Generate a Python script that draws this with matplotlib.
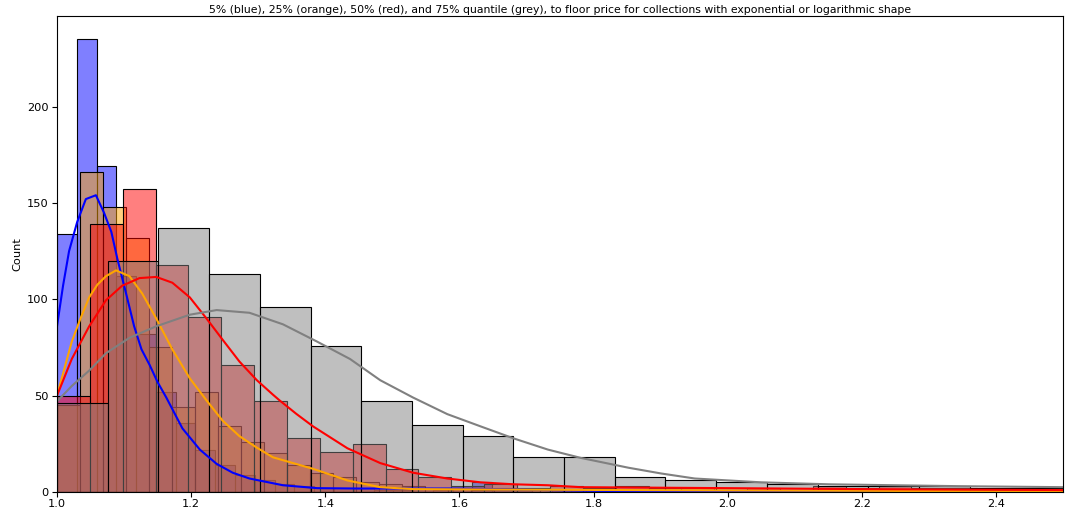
import numpy as np
import matplotlib
matplotlib.use('Agg')
import matplotlib.pyplot as plt
from matplotlib.colors import to_rgba

# histogram counts, one list per quantile (each series has its own bin width)
blue_counts = [134, 235, 169, 112, 82, 52, 36, 22, 14, 9, 6, 4, 3, 2, 2, 2, 1, 1, 2, 1,
               2, 5, 1, 1, 0, 1, 1, 0, 1, 0, 1, 0, 0, 1]
orange_counts = [45, 166, 148, 132, 75, 44, 52, 34, 26, 20, 14, 10, 8, 5, 4, 3, 2, 2, 1, 2,
                 1, 1, 1, 2, 1, 1, 1, 0, 1, 1, 1, 1, 0, 1, 1, 0, 1, 1, 0, 1, 0, 1, 1, 0]
red_counts = [50, 139, 157, 118, 91, 66, 47, 28, 21, 25, 12, 8, 3, 4, 2, 3, 2, 3, 2, 2,
              1, 2, 1, 3, 2, 3, 2, 2, 1, 2, 1]
grey_counts = [46, 120, 137, 113, 96, 76, 47, 35, 29, 18, 18, 8, 6, 5, 4, 3, 3, 3, 2, 2]

bin_start = 1.0
blue_width = 0.0295
orange_width = 0.0343
red_width = 0.0490
grey_width = 0.0756

# kde curves (already scaled to counts)
blue_kde_x = [1.0, 1.009, 1.018, 1.030, 1.043, 1.058, 1.070, 1.081, 1.090, 1.103, 1.115,
              1.126, 1.138, 1.150, 1.163, 1.175, 1.187, 1.213, 1.238, 1.262, 1.287, 1.337,
              1.388, 1.45, 1.5, 1.6, 1.7, 1.8, 1.9, 2.0, 2.2, 2.5]
blue_kde_y = [86, 107, 125, 140, 152, 154, 145, 135, 121, 103, 86, 74, 66, 57, 49, 41,
              33, 22, 14.6, 10, 7, 3.5, 2, 1.8, 1.8, 1.8, 1.2, 0.6, 0.3, 0.2, 0.1, 0]

orange_kde_x = [1.0, 1.011, 1.022, 1.035, 1.048, 1.060, 1.073, 1.088, 1.108, 1.127, 1.148,
                1.172, 1.198, 1.223, 1.247, 1.272, 1.298, 1.322, 1.352, 1.382, 1.433,
                1.482, 1.531, 1.7, 2.0, 2.3, 2.5]
orange_kde_y = [50, 64, 78, 90, 101, 107.5, 112, 115, 112, 103, 90, 74, 59, 47.5, 37, 29,
                23, 18, 15, 12, 6, 2.5, 1.5, 1.2, 0.8, 0.5, 0.3]

red_kde_x = [1.0, 1.022, 1.048, 1.073, 1.097, 1.123, 1.148, 1.172, 1.198, 1.223, 1.247,
             1.272, 1.298, 1.322, 1.332, 1.357, 1.382, 1.433, 1.482, 1.531, 1.582, 1.632,
             1.681, 1.732, 1.781, 2.0, 2.2, 2.5]
red_kde_y = [50, 69, 86, 99.5, 107, 111, 111.6, 108.6, 101, 90, 79, 67.7, 58, 50.5, 47.5,
             40.5, 34, 22.7, 15, 10, 7, 5, 4, 3.5, 2.5, 2, 1.5, 1]

grey_kde_x = [1.0, 1.022, 1.048, 1.073, 1.108, 1.148, 1.198, 1.238, 1.287, 1.337, 1.388,
              1.437, 1.482, 1.531, 1.582, 1.632, 1.681, 1.732, 1.781, 1.852, 1.901, 1.951,
              2.001, 2.051, 2.151, 2.25, 2.35, 2.5]
grey_kde_y = [47, 55, 63, 72, 80, 86, 92, 94.4, 93, 87, 78, 69, 58, 49, 40.4, 34, 27.8,
              22, 17.7, 12.6, 9.6, 7, 6, 5, 4, 3.5, 3, 2.5]

series = [
    (blue_counts, blue_width, blue_kde_x, blue_kde_y, 'blue'),
    (orange_counts, orange_width, orange_kde_x, orange_kde_y, 'orange'),
    (red_counts, red_width, red_kde_x, red_kde_y, 'red'),
    (grey_counts, grey_width, grey_kde_x, grey_kde_y, 'grey'),
]

plt.rcParams['font.size'] = 8.2
fig = plt.figure(figsize=(10.8, 5.12), dpi=100)
ax = fig.add_axes([57 / 1080, 20 / 512, 1006 / 1080, 476 / 512])

for counts, width, kx, ky, color in series:
    edges = bin_start + width * np.arange(len(counts))
    ax.bar(edges, counts, width=width, align='edge',
           facecolor=to_rgba(color, 0.5), edgecolor='black', linewidth=0.8)
    ax.plot(kx, ky, color=color, linewidth=1.5)

ax.set_xlim(1.0, 2.5)
ax.set_ylim(0, 247)
ax.set_yticks([0, 50, 100, 150, 200])
ax.set_xticks([1.0, 1.2, 1.4, 1.6, 1.8, 2.0, 2.2, 2.4])
ax.tick_params(axis='x', pad=1.5)
ax.tick_params(axis='y', pad=2.5)
ax.set_ylabel('Count', labelpad=3)
ax.set_title('5% (blue), 25% (orange), 50% (red), and 75% quantile (grey), to floor price '
             'for collections with exponential or logarithmic shape', pad=2, fontsize=7.8)

fig.savefig('out.png', dpi=100)
